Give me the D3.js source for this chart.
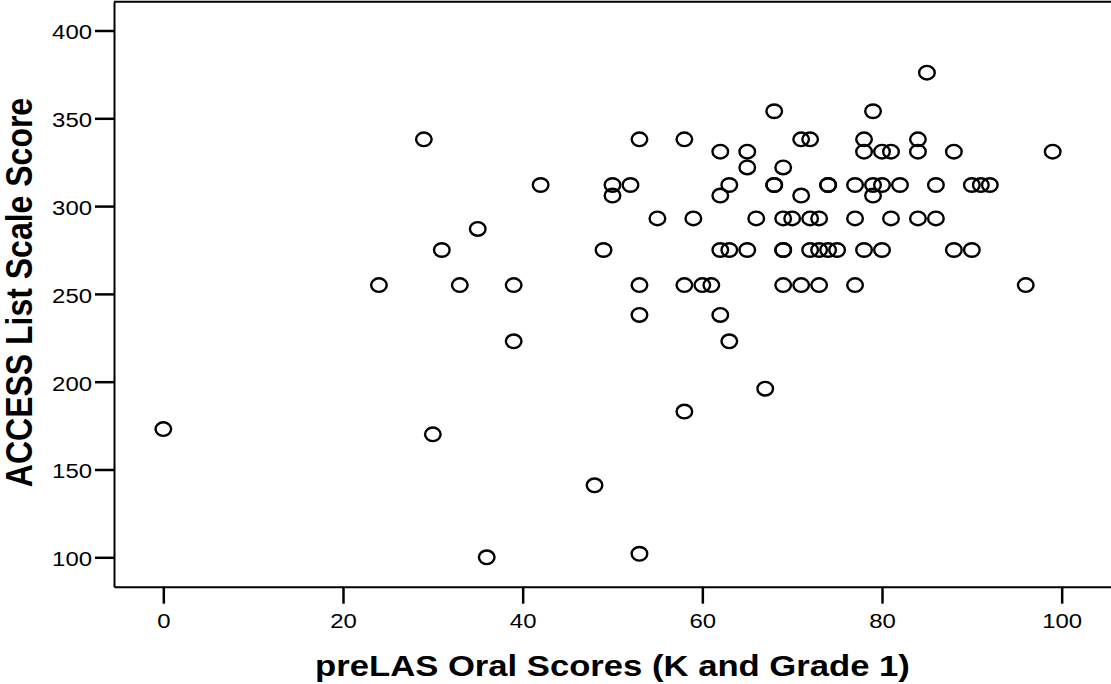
<!DOCTYPE html>
<html>
<head>
<meta charset="utf-8">
<script src="https://cdn.jsdelivr.net/npm/d3@7"></script>
<style>
  html, body { margin: 0; padding: 0; background: #ffffff; }
  svg { display: block; }
</style>
</head>
<body>
<svg id="chart" width="1111" height="684"></svg>
<script>
// ---- data ----
const preLAS = [0, 24, 29, 30, 31, 33, 35, 36, 39, 39, 42, 48, 49, 50, 50, 52, 53, 53, 53, 53,
  55, 58, 58, 58, 59, 60, 61, 62, 62, 62, 62, 63, 63, 63, 65, 65, 65, 66, 67, 68, 68, 68,
  69, 69, 69, 69, 69, 70, 71, 71, 71, 72, 72, 72, 73, 73, 73, 74, 74, 74, 75, 77, 77, 77,
  78, 78, 78, 79, 79, 79, 80, 80, 80, 81, 81, 82, 84, 84, 84, 85, 86, 86, 88, 88, 90, 90,
  91, 92, 96, 99];
const access = [173, 255, 338, 170, 275, 255, 287, 100, 255, 223, 312, 141, 275, 312, 306, 312, 338, 255, 238, 102,
  293, 338, 255, 183, 293, 255, 255, 331, 306, 275, 238, 312, 275, 223, 331, 322, 275, 293, 196, 354, 312, 312,
  322, 293, 275, 275, 255, 293, 338, 306, 255, 338, 293, 275, 293, 275, 255, 312, 312, 275, 275, 312, 293, 255,
  338, 331, 275, 354, 312, 306, 331, 312, 275, 331, 293, 312, 338, 331, 293, 376, 312, 293, 331, 275, 312, 275,
  312, 312, 255, 331];
const xTicks = [0, 20, 40, 60, 80, 100];
const yTicks = [100, 150, 200, 250, 300, 350, 400];
const xDomain = [-5.49, 105.49];
const yDomain = [83.25, 416.4];
const xTitle = "preLAS Oral Scores (K and Grade 1)";
const yTitle = "ACCESS List Scale Score";

// ---- drawing ----
(function () {
  const FONT = "'Liberation Sans', Arial, Helvetica, sans-serif";
  const SX = 1.14; // horizontal stretch of the original rendering
  const svg = d3.select("#chart");
  svg.append("rect").attr("width", 1111).attr("height", 684).attr("fill", "#fff");

  const pLeft = 114, pRight = 1111, pTop = 1.7, pBottom = 586.7;
  const x = d3.scaleLinear().domain(xDomain).range([pLeft, pRight]);
  const y = d3.scaleLinear().domain(yDomain).range([pBottom, pTop]);

  // top frame line
  svg.append("line")
    .attr("x1", pLeft).attr("x2", pRight).attr("y1", pTop).attr("y2", pTop)
    .attr("stroke", "#000").attr("stroke-width", 2);

  // x axis
  const gx = svg.append("g").attr("transform", `translate(0,${pBottom})`)
    .call(d3.axisBottom(x).tickValues(xTicks).tickSize(17).tickPadding(9).tickSizeOuter(0));
  gx.select(".domain").attr("stroke", "#000").attr("stroke-width", 2);
  gx.selectAll(".tick line").attr("stroke", "#000").attr("stroke-width", 2.5);
  gx.selectAll(".tick text")
    .attr("font-family", FONT).attr("font-size", 21).attr("fill", "#000")
    .attr("transform", `scale(${SX},1)`);

  // y axis
  const gy = svg.append("g").attr("transform", `translate(${pLeft},0)`)
    .call(d3.axisLeft(y).tickValues(yTicks).tickSize(19).tickPadding(3).tickSizeOuter(0));
  gy.select(".domain").attr("stroke", "#000").attr("stroke-width", 2);
  gy.selectAll(".tick line").attr("stroke", "#000").attr("stroke-width", 2.5);
  gy.selectAll(".tick text")
    .attr("font-family", FONT).attr("font-size", 21).attr("fill", "#000")
    .attr("x", -22 / SX).attr("dy", "0.40em")
    .attr("transform", `scale(${SX},1)`);
  svg.selectAll(".domain").attr("fill", "none");

  // points
  const pts = preLAS.map((v, i) => ({ x: v, y: access[i] }));
  svg.append("g").selectAll("ellipse").data(pts).join("ellipse")
    .attr("cx", d => x(d.x)).attr("cy", d => y(d.y))
    .attr("rx", 7.8).attr("ry", 6.8)
    .attr("fill", "none").attr("stroke", "#000").attr("stroke-width", 2.4);

  // axis titles
  svg.append("text")
    .attr("transform", `translate(${(pLeft + pRight) / 2},676) scale(${SX},1)`)
    .attr("text-anchor", "middle")
    .attr("font-family", FONT).attr("font-weight", "bold").attr("font-size", 30.4)
    .attr("fill", "#000")
    .text(xTitle);

  svg.append("text")
    .attr("transform", `translate(31.7,292.5) scale(${SX},1) rotate(-90)`)
    .attr("text-anchor", "middle")
    .attr("font-family", FONT).attr("font-weight", "bold").attr("font-size", 32)
    .attr("fill", "#000")
    .text(yTitle);
})();
</script>
</body>
</html>
